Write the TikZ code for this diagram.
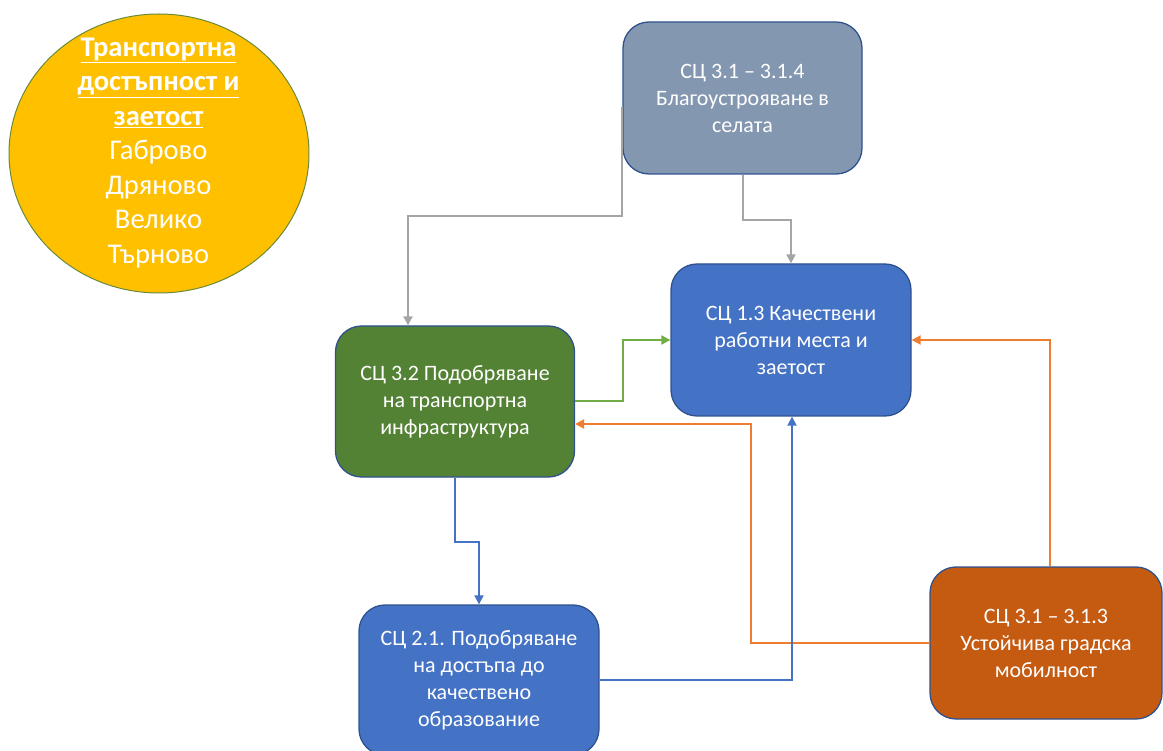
\documentclass[tikz,border=0pt]{standalone}
\usepackage{fontspec}
\setmainfont{Carlito}
\usetikzlibrary{arrows.meta,shapes.geometric}
\definecolor{boxline}{HTML}{2F528F}
\definecolor{grayfill}{HTML}{8497B0}
\definecolor{bluefill}{HTML}{4472C4}
\definecolor{greenfill}{HTML}{548235}
\definecolor{orangefill}{HTML}{C55A11}
\definecolor{circfill}{HTML}{FFC000}
\definecolor{circline}{HTML}{6A8A3A}
\definecolor{cgray}{HTML}{A5A5A5}
\definecolor{cgreen}{HTML}{70AD47}
\definecolor{corange}{HTML}{ED7D31}
\definecolor{cblue}{HTML}{4472C4}
\tikzset{
  box/.style={draw=boxline, line width=1.3pt, rounded corners=26pt, text=white,
    align=center, inner sep=4pt, font=\fontsize{22}{27}\selectfont},
  conn/.style={line width=2pt, -{Triangle[length=9pt,width=9pt]}}
}
\begin{document}
\begin{tikzpicture}[x=1pt,y=-1pt]
\useasboundingbox (0,0) rectangle (1163,751);
\node[ellipse, draw=circline, line width=1pt, fill=circfill, minimum width=300pt, minimum height=279pt, inner sep=0pt] (circ) at (159,153.5) {};
\node[text=white, align=center, inner sep=0pt, font=\fontsize{28.5}{34.5}\selectfont] (circtext) at (158.5,153)
  {\textbf{\underline{Транспортна}}\\\textbf{\underline{достъпност и}}\\\textbf{\underline{заетост}}\\Габрово\\Дряново\\Велико\\Търново};
\node[box, fill=grayfill, minimum width=239pt, minimum height=152pt] (g) at (742.5,98)
  {СЦ 3.1 – 3.1.4\\Благоустрояване в\\селата};
\node[box, fill=bluefill, minimum width=240pt, minimum height=152pt] (b1) at (791,340)
  {СЦ 1.3 Качествени\\работни места и\\заетост};
\node[box, fill=greenfill, minimum width=239pt, minimum height=151pt] (gr) at (455,401.5)
  {СЦ 3.2 Подобряване\\на транспортна\\инфраструктура};
\node[box, fill=bluefill, minimum width=240pt, minimum height=150pt] (b2) at (479,680)
  {СЦ 2.1. Подобряване\\на достъпа до\\качествено\\образование};
\node[box, fill=orangefill, minimum width=232pt, minimum height=152pt] (o) at (1046,643)
  {СЦ 3.1 – 3.1.3\\Устойчива градска\\мобилност};
% connectors
\draw[conn, cgray] ([yshift=-9pt]g.west) -- ++(0,109) -| ([xshift=-47pt]gr.north);
\draw[conn, cgray] (g.south) -- ++(0,45) -| (b1.north);
\draw[conn, cgreen] (gr.east) -- ++(48,0) |- (b1.west);
\draw[conn, corange] (o.west) -- (751,643) |- ([yshift=-22.5pt]gr.east);
\draw[conn, corange] ([xshift=4pt]o.north) |- (b1.east);
\draw[conn, cblue] (b2.east) -| ([xshift=1pt]b1.south);
\draw[conn, cblue] (gr.south) -- ++(0,64) -| (b2.north);
\end{tikzpicture}
\end{document}
